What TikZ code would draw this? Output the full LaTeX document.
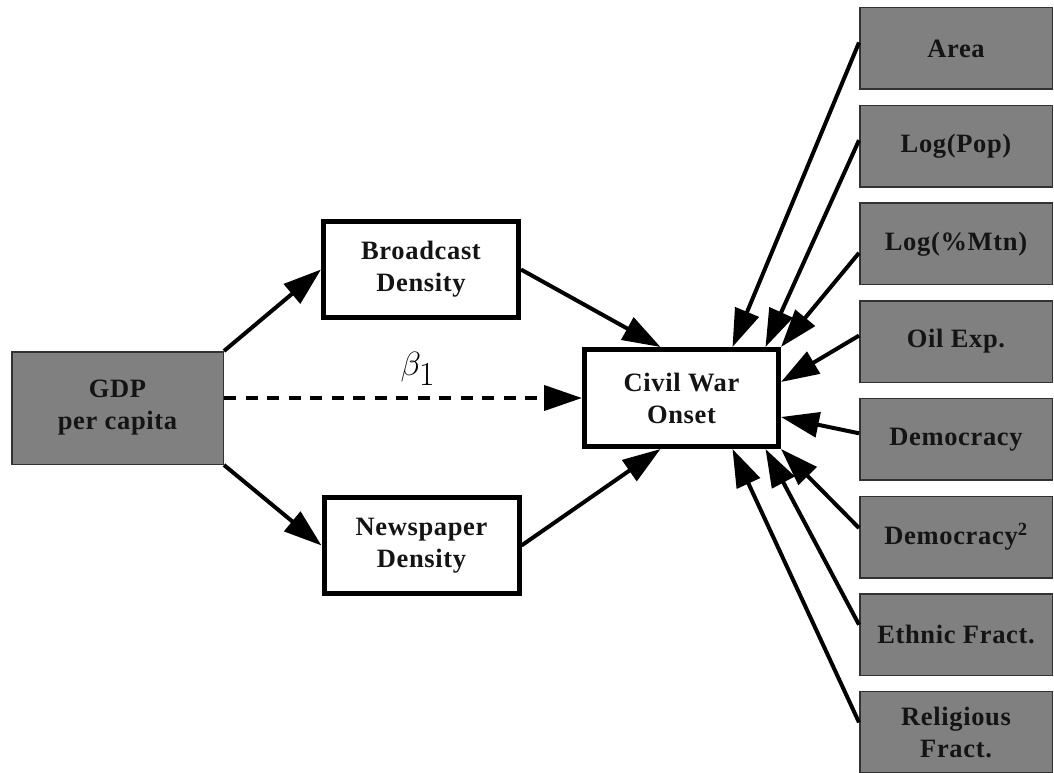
\documentclass[tikz,border=0pt]{standalone}
\usepackage{fontspec}
\usetikzlibrary{arrows.meta,calc}
\newfontfamily\lbl{Liberation Serif}[LetterSpace=2.5]
\definecolor{boxgray}{RGB}{128,128,128}
\definecolor{boxedge}{RGB}{50,50,50}
\begin{document}
\begin{tikzpicture}[x=1pt,y=-1pt,
  txt/.style={align=center, inner sep=0pt, text=black!92, font=\lbl\bfseries\fontsize{26.5}{32}\selectfont},
  gbox/.style={txt, draw=boxedge, line width=1.5pt, fill=boxgray, minimum width=192.5pt, minimum height=81.5pt},
  wbox/.style={txt, draw=black, line width=5pt, fill=white, minimum width=195pt, minimum height=96pt},
  arr/.style={line width=4pt, -{Triangle[length=38pt,width=25pt]}},
]
\useasboundingbox (0,0) rectangle (1054,773);

% left and middle boxes
\node[gbox, minimum width=211.5pt, minimum height=112.5pt] (gdp) at (117.5,408) {GDP\\per capita};
\node[wbox] (bc) at (421,269.5) {Broadcast\\Density};
\node[wbox] (np) at (421.5,545.5) {Newspaper\\Density};
\node[wbox, minimum width=194pt, minimum height=97pt] (cw) at (681.5,398) {Civil War\\Onset};

% right boxes
\node[gbox] (area) at (956,48.5) {Area};
\node[gbox] (pop)  at (956,146.2) {Log(Pop)};
\node[gbox] (mtn)  at (956,243.9) {Log(\%Mtn)};
\node[gbox] (oil)  at (956,341.6) {Oil Exp.};
\node[gbox] (dem)  at (956,439.3) {Democracy};
\node[gbox] (dem2) at (956,537) {Democracy\textsuperscript{2}};
\node[gbox] (eth)  at (956,634.7) {Ethnic Fract.};
\node[gbox] (rel)  at (956,732.4) {Religious\\Fract.};

% beta label
\node[scale=1.35] (beta) at (418,369) {\fontsize{24.88}{25}\selectfont$\beta_{\textstyle 1}$};

% left connectors
\draw[arr] (gdp.north east) -- (bc.west);
\draw[arr] (gdp.south east) -- (np.west);
\draw[arr, dash pattern=on 12pt off 9.5pt] (gdp.east |- cw.west) -- (cw.west);
\draw[arr] (bc.east) -- ([xshift=-21pt]cw.north);
\draw[arr] (np.east) -- ([xshift=-21pt]cw.south);

% right connectors
\draw[arr] ([yshift=6pt]area.west) -- ([xshift=51pt]cw.north);
\draw[arr] ([yshift=6pt]pop.west) -- ([xshift=84pt]cw.north);
\draw[arr] ([yshift=-9pt]mtn.west) -- (cw.north east);
\draw[arr] ([yshift=6pt]oil.west) -- ([yshift=16pt]cw.east);
\draw[arr] ([yshift=6pt]dem.west) -- ([yshift=-19pt]cw.east);
\draw[arr] ([yshift=9pt]dem2.west) -- (cw.south east);
\draw[arr] ([yshift=10pt]eth.west) -- ([xshift=84pt]cw.south);
\draw[arr] ([yshift=10pt]rel.west) -- ([xshift=51pt]cw.south);
\end{tikzpicture}
\end{document}
